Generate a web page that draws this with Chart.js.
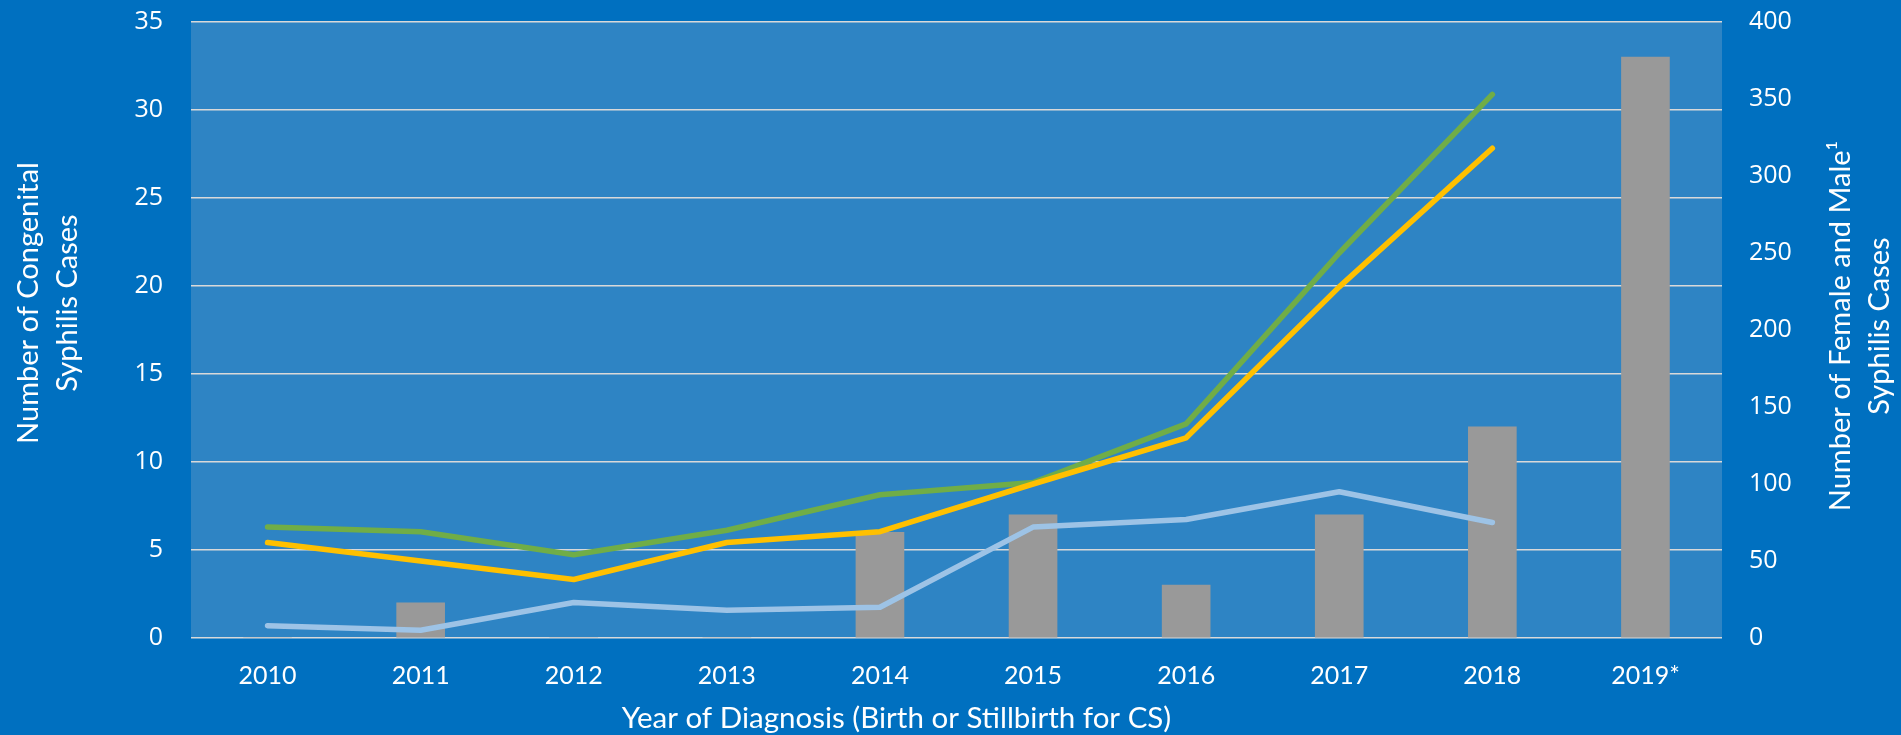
<!DOCTYPE html>
<html>
<head>
<meta charset="utf-8">
<script src="https://cdn.jsdelivr.net/npm/chart.js@4/dist/chart.umd.min.js"></script>
<style>
    html, body { margin: 0; padding: 0; background: #0070C0; }
    #wrap { width: 1901px; height: 735px; position: relative; }
</style>
</head>
<body>
<div id="wrap"><canvas id="syphilisChart"></canvas></div>
<script>
//Years on the x axis
const years = ['2010', '2011', '2012', '2013', '2014', '2015', '2016', '2017', '2018', '2019*'];

//Congenital syphilis cases (bars, left axis)
const congenitalCases = [0, 2, 0, 0, 6, 7, 3, 7, 12, 33];

//Female and male syphilis cases (lines, right axis)
const femaleCases = [72, 69, 54, 70, 93, 101, 139, 250, 353, null];
const femaleRepro = [62, 50, 38, 62, 69, 100, 130, 228, 318, null];
const maleCases = [8, 5, 23, 18, 20, 72, 77, 95, 75, null];

//Axis tick steps
const leftTicks = { min: 0, max: 35, step: 5 };
const rightTicks = { min: 0, max: 400, step: 50 };

const leftTitle = ['Number of Congenital', 'Syphilis Cases'];
const rightTitle = ['Number of Female and Male\u00B9', 'Syphilis Cases'];
const xTitle = 'Year of Diagnosis (Birth or Stillbirth for CS)';

//Fill the plot area with the lighter blue
const plotBackground = {
    id: 'plotBackground',
    beforeDraw(chart) {
        const {ctx, chartArea} = chart;
        ctx.save();
        ctx.fillStyle = '#2E84C4';
        ctx.fillRect(chartArea.left, chartArea.top, chartArea.right - chartArea.left, chartArea.bottom - chartArea.top);
        ctx.restore();
    }
}

//Axis titles: y titles read bottom to top, x title sits a bit left of centre
const axisTitles = {
    id: 'axisTitles',
    afterDraw(chart) {
        const ctx = chart.ctx;
        const area = chart.chartArea;
        const midX = (area.left + area.right) / 2;
        const midY = (area.top + area.bottom) / 2;
        ctx.save();
        ctx.fillStyle = '#FFFFFF';
        ctx.textAlign = 'center';
        ctx.textBaseline = 'middle';
        ctx.font = '29.5px Lato';
        ctx.fillText(xTitle, midX - 60, chart.height - 17);
        ctx.font = '29px Lato';
        function vertical(lines, x, y) {
            lines.forEach(function (line, i) {
                ctx.save();
                ctx.translate(x + i * 39, y);
                ctx.rotate(-Math.PI / 2);
                ctx.fillText(line, 0, 0);
                ctx.restore();
            });
        }
        vertical(leftTitle, chart.scales.y.left + 29, midY - 27);
        vertical(rightTitle, chart.scales.y1.right - 60, midY - 4);
        ctx.restore();
    }
}

function lineSet(label, data, color, order) {
    return {
        type: 'line',
        label: label,
        data: data,
        yAxisID: 'y1',
        borderColor: color,
        borderWidth: 5.5,
        borderCapStyle: 'round',
        borderJoinStyle: 'round',
        pointRadius: 0,
        tension: 0,
        order: order
    };
}

const ctx = document.getElementById('syphilisChart');
const syphilisChart = new Chart(ctx, {
    data: {
        labels: years,
        datasets: [
            lineSet('Female', femaleCases, '#70AD47', 1),
            lineSet('Female 15-44', femaleRepro, '#FFC000', 0),
            lineSet('Male', maleCases, '#9DC3E6', 2),
            {
                type: 'bar',
                label: 'Congenital',
                data: congenitalCases,
                yAxisID: 'y',
                backgroundColor: '#999999',
                barThickness: 48,
                order: 5
            }
        ]
    },
    options: {
        responsive: true,
        maintainAspectRatio: false,
        animation: false,
        layout: {
            padding: { top: 22, left: 0, right: 0, bottom: 0 }
        },
        plugins: {
            legend: { display: false },
            tooltip: { enabled: false }
        },
        scales: {
            x: {
                offset: true,
                grid: { display: false },
                border: { display: false },
                ticks: {
                    color: '#FFFFFF',
                    padding: 15,
                    maxRotation: 0,
                    font: { family: 'Lato', size: 25 }
                },
                afterFit(scale) { scale.height = 97; }
            },
            y: {
                position: 'left',
                min: leftTicks.min,
                max: leftTicks.max,
                grid: {
                    color: '#D9D9D9',
                    lineWidth: 1.5,
                    drawTicks: false
                },
                border: { display: false },
                ticks: {
                    stepSize: leftTicks.step,
                    color: '#FFFFFF',
                    padding: 28,
                    font: { family: 'Open Sans', size: 25 }
                },
                afterFit(scale) {
                    scale.width = 191;
                    scale.paddingTop = 0;
                    scale.paddingBottom = 0;
                }
            },
            y1: {
                position: 'right',
                min: rightTicks.min,
                max: rightTicks.max,
                grid: { drawOnChartArea: false, drawTicks: false },
                border: { display: false },
                ticks: {
                    stepSize: rightTicks.step,
                    color: '#FFFFFF',
                    padding: 27,
                    font: { family: 'Open Sans', size: 25 }
                },
                afterFit(scale) {
                    scale.width = 179;
                    scale.paddingTop = 0;
                    scale.paddingBottom = 0;
                }
            }
        }
    },
    plugins: [plotBackground, axisTitles]
})
</script>
</body>
</html>
